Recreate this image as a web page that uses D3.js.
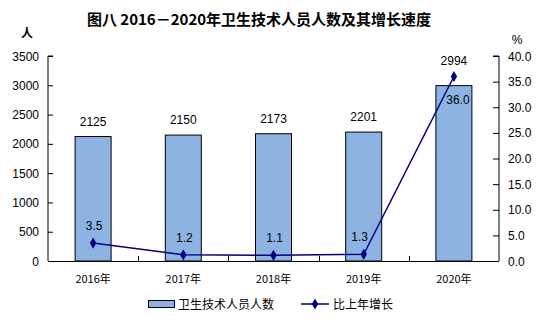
<!DOCTYPE html>
<html>
<head>
<meta charset="utf-8">
<script src="https://cdn.jsdelivr.net/npm/d3@7"></script>
<style>
  body { margin: 0; background: #fff; }
  svg text { font-family: "Liberation Sans", Arial, "Noto Sans CJK SC", sans-serif; fill: #000; }
  .cjk { font-family: "Noto Sans CJK SC", sans-serif; }
</style>
</head>
<body>
<svg width="553" height="324"></svg>
<script>
const years = ["2016年", "2017年", "2018年", "2019年", "2020年"]
const staff = [2125, 2150, 2173, 2201, 2994]
const growth = [3.5, 1.2, 1.1, 1.3, 36.0]
const leftTicks = [0, 500, 1000, 1500, 2000, 2500, 3000, 3500]
const rightTicks = [0, 5, 10, 15, 20, 25, 30, 35, 40]

const svg = d3.select("svg")
const plotLeft = 48, plotRight = 499, plotTop = 56, plotBottom = 261
const barColor = "#8db3e2"
const lineColor = "#000080"

const x = d3.scaleBand().domain(years).range([plotLeft, plotRight])
const yL = d3.scaleLinear().domain([0, 3500]).range([plotBottom, plotTop])
const yR = d3.scaleLinear().domain([0, 40]).range([plotBottom, plotTop])
const cx = i => x(years[i]) + x.bandwidth() / 2

// title
svg.append("text")
  .attr("class", "cjk")
  .attr("x", 259).attr("y", 25)
  .attr("text-anchor", "middle")
  .attr("font-size", 15).attr("font-weight", "bold")
  .text("图八  2016－2020年卫生技术人员人数及其增长速度")

svg.append("text").attr("class", "cjk")
  .attr("x", 27).attr("y", 38).attr("text-anchor", "middle")
  .attr("font-size", 12).attr("font-weight", "bold").text("人")
svg.append("text")
  .attr("x", 517).attr("y", 44).attr("text-anchor", "middle")
  .attr("font-size", 12).text("%")

// bars
const bw = 36
svg.append("g").selectAll("rect")
  .data(staff)
  .enter().append("rect")
  .attr("x", (d, i) => cx(i) - bw / 2)
  .attr("y", d => yL(d))
  .attr("width", bw)
  .attr("height", d => plotBottom - yL(d))
  .attr("fill", barColor)
  .attr("stroke", "#000")
  .attr("stroke-width", 1)

svg.append("g").selectAll("text")
  .data(staff)
  .enter().append("text")
  .attr("x", (d, i) => cx(i))
  .attr("y", (d, i) => yL(d) - (i === 4 ? 21 : 11))
  .attr("text-anchor", "middle")
  .attr("font-size", 12)
  .text(d => d)

// axes
const axL = svg.append("g").attr("transform", `translate(${plotLeft},0)`)
  .call(d3.axisRight(yL).tickValues(leftTicks).tickSize(5))
axL.selectAll("text").remove()
axL.select("path").attr("d", `M5,${plotTop}H0V${plotBottom}`)
leftTicks.forEach(t => {
  svg.append("text").attr("x", plotLeft - 9).attr("y", yL(t) + 4.5)
    .attr("text-anchor", "end").attr("font-size", 12).text(t)
})

const axR = svg.append("g").attr("transform", `translate(${plotRight},0)`)
  .call(d3.axisLeft(yR).tickValues(rightTicks).tickSize(6))
axR.selectAll("text").remove()
axR.select("path").attr("d", `M-6,${plotTop}H0V${plotBottom}`)
rightTicks.forEach(t => {
  svg.append("text").attr("x", plotRight + 9).attr("y", yR(t) + 4.5)
    .attr("text-anchor", "start").attr("font-size", 12).text(t.toFixed(1))
})

// category axis with boundary ticks pointing up
const bounds = years.slice(1).map(y => x(y))
svg.append("line").attr("x1", plotLeft).attr("x2", plotRight)
  .attr("y1", plotBottom + 0.5).attr("y2", plotBottom + 0.5).attr("stroke", "#000")
svg.append("g").selectAll("line")
  .data(bounds)
  .enter().append("line")
  .attr("x1", d => Math.round(d) + 0.5).attr("x2", d => Math.round(d) + 0.5)
  .attr("y1", plotBottom - 5).attr("y2", plotBottom)
  .attr("stroke", "#000")

years.forEach((y, i) => {
  svg.append("text").attr("class", "cjk")
    .attr("x", cx(i)).attr("y", 283)
    .attr("text-anchor", "middle").attr("font-size", 11).text(y)
})

// growth line
const line = d3.line()
  .x((d, i) => cx(i))
  .y(d => yR(d))
svg.append("path").datum(growth)
  .attr("d", line).attr("fill", "none")
  .attr("stroke", lineColor).attr("stroke-width", 1.5)

const diamond = d3.symbol().type(d3.symbolDiamond).size(36)
svg.append("g").selectAll("path")
  .data(growth)
  .enter().append("path")
  .attr("d", diamond)
  .attr("transform", (d, i) => `translate(${cx(i)},${yR(d)})`)
  .attr("fill", lineColor)

svg.append("g").selectAll("text")
  .data(growth)
  .enter().append("text")
  .attr("x", (d, i) => cx(i) + (i === 4 ? 4 : i === 3 ? -4 : 1))
  .attr("y", (d, i) => i === 4 ? yR(d) + 27 : yR(d) - 13)
  .attr("text-anchor", "middle")
  .attr("font-size", 12)
  .text(d => d.toFixed(1))

// legend
svg.append("rect").attr("x", 148.5).attr("y", 300.5).attr("width", 26).attr("height", 7)
  .attr("fill", barColor).attr("stroke", "#000")
svg.append("text").attr("class", "cjk").attr("x", 178).attr("y", 309)
  .attr("font-size", 12).text("卫生技术人员人数")
svg.append("line").attr("x1", 301).attr("x2", 329).attr("y1", 304).attr("y2", 304)
  .attr("stroke", lineColor).attr("stroke-width", 1.5)
svg.append("path").attr("d", diamond)
  .attr("transform", "translate(315,304)").attr("fill", lineColor)
svg.append("text").attr("class", "cjk").attr("x", 333).attr("y", 309)
  .attr("font-size", 12).text("比上年增长")
</script>
</body>
</html>
